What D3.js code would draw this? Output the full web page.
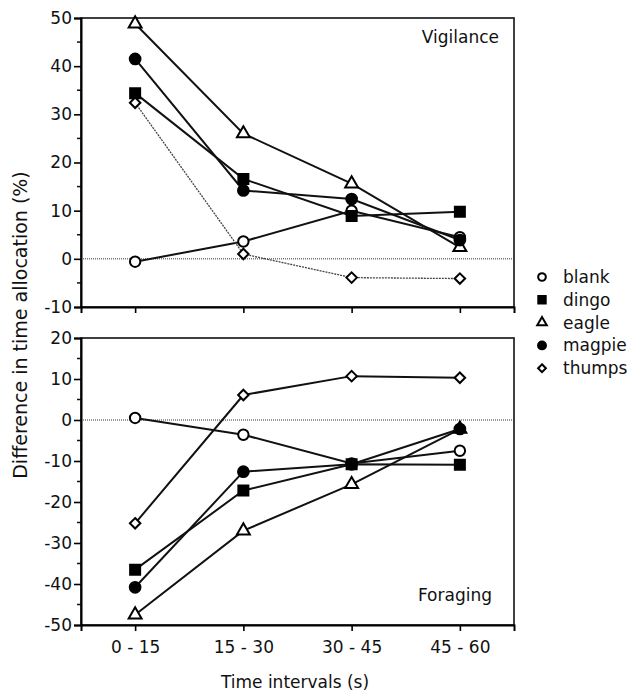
<!DOCTYPE html>
<html>
<head>
<meta charset="utf-8">
<script src="https://cdn.jsdelivr.net/npm/d3@7"></script>
<style>
  body { margin: 0; background: #fff; }
  text { font-family: "DejaVu Sans", sans-serif; fill: #111; }
</style>
</head>
<body>
<div id="vis"></div>
<script>
// data
var intervals = ["0 - 15", "15 - 30", "30 - 45", "45 - 60"]
var species = ["blank", "dingo", "eagle", "magpie", "thumps"]

var vigBlank  = [-0.6, 3.6, 10, 4.5]
var vigDingo  = [34.4, 16.6, 8.9, 9.8]
var vigEagle  = [48.8, 26, 15.6, 2.4]
var vigMagpie = [41.5, 14.2, 12.4, 3.9]
var vigThumps = [32.4, 1, -3.9, -4.1]

var forBlank  = [0.5, -3.6, -10.6, -7.5]
var forDingo  = [-36.5, -17.2, -10.8, -10.9]
var forEagle  = [-47.5, -27, -15.7, -2.2]
var forMagpie = [-40.8, -12.6, -10.8, -2.2]
var forThumps = [-25.2, 6.1, 10.7, 10.3]

var vigTicks = [-10, 0, 10, 20, 30, 40, 50]
var forTicks = [-50, -40, -30, -20, -10, 0, 10, 20]

var width = 630, height = 694
var left = 81, right = 514

var svg = d3.select("#vis").append("svg")
  .attr("width", width)
  .attr("height", height)

var x = d3.scalePoint()
  .domain(intervals)
  .range([left, right])
  .padding(0.5)

// marker shapes per species
var shapes = {
  blank:  {type: d3.symbolCircle,   fill: "#fff"},
  dingo:  {type: d3.symbolSquare,   fill: "#000"},
  eagle:  {type: d3.symbolTriangle, fill: "#fff"},
  magpie: {type: d3.symbolCircle,   fill: "#000"},
  thumps: {type: d3.symbolDiamond2, fill: "#fff"}
}
var sizes = {blank: 85, dingo: 100, eagle: 72, magpie: 90, thumps: 70}

function panel(top, bottom, domain, ticks, series, label, labelY, thinThumps) {
  var y = d3.scaleLinear().domain(domain).range([bottom, top])
  var g = svg.append("g")

  // frame
  g.append("rect")
    .attr("x", left).attr("y", top)
    .attr("width", right - left).attr("height", bottom - top)
    .attr("fill", "none").attr("stroke", "#111").attr("stroke-width", 1.6)

  // zero line
  g.append("line")
    .attr("x1", left).attr("x2", right)
    .attr("y1", y(0)).attr("y2", y(0))
    .attr("stroke", "#333").attr("stroke-width", 1)
    .attr("stroke-dasharray", "1,1")

  // minor ticks
  var minor = d3.range(domain[0] + 5, domain[1], 10)
  g.selectAll(".minor").data(minor).enter().append("line")
    .attr("x1", left - 4).attr("x2", left)
    .attr("y1", d => y(d)).attr("y2", d => y(d))
    .attr("stroke", "#111").attr("stroke-width", 1.5)

  var yAxis = g.append("g")
    .attr("transform", `translate(${left},0)`)
    .call(d3.axisLeft(y).tickValues(ticks).tickFormat(d => String(d)).tickSize(7).tickPadding(2))
  yAxis.select(".domain").attr("stroke-width", 2)
  yAxis.selectAll(".tick line").attr("stroke-width", 1.6)
  yAxis.selectAll("text").style("font-size", "17px").attr("fill", "#111")

  var xAxis = g.append("g")
    .attr("transform", `translate(0,${bottom})`)
    .call(d3.axisBottom(x).tickSize(6).tickPadding(10))
  xAxis.select(".domain").attr("stroke-width", 2)
  xAxis.selectAll(".tick line").attr("stroke-width", 1.6)
  xAxis.selectAll("text").style("font-size", "17px").attr("fill", "#111")
    .style("display", label == "Foraging" ? null : "none")

  var line = d3.line()
    .x((d, i) => x(intervals[i]))
    .y(d => y(d))

  species.forEach(function(s) {
    var thin = thinThumps && s == "thumps"
    g.append("path")
      .datum(series[s])
      .attr("d", line)
      .attr("fill", "none")
      .attr("stroke", thin ? "#444" : "#111")
      .attr("stroke-width", thin ? 1.3 : 2)
      .attr("stroke-dasharray", thin ? "2,1" : null)
  })

  species.forEach(function(s) {
    g.selectAll(".m-" + s).data(series[s]).enter().append("path")
      .attr("transform", (d, i) => `translate(${x(intervals[i])},${y(d)})`)
      .attr("d", d3.symbol().type(shapes[s].type).size(sizes[s]))
      .attr("fill", shapes[s].fill)
      .attr("stroke", "#000")
      .attr("stroke-width", 2)
  })

  g.append("text")
    .attr("x", right - 15 - (label == "Foraging" ? 7 : 0))
    .attr("y", labelY)
    .attr("text-anchor", "end")
    .style("font-size", "17px")
    .text(label)
}

panel(18, 307, [-10, 50], vigTicks,
  {blank: vigBlank, dingo: vigDingo, eagle: vigEagle, magpie: vigMagpie, thumps: vigThumps},
  "Vigilance", 43, true)

panel(338, 625, [-50, 20], forTicks,
  {blank: forBlank, dingo: forDingo, eagle: forEagle, magpie: forMagpie, thumps: forThumps},
  "Foraging", 601, false)

// legend
var legend = svg.append("g").attr("transform", "translate(542,277)")
species.forEach(function(s, i) {
  var row = legend.append("g").attr("transform", `translate(0,${i * 22.8})`)
  row.append("path")
    .attr("d", d3.symbol().type(shapes[s].type).size(sizes[s] * 0.55))
    .attr("fill", shapes[s].fill)
    .attr("stroke", "#000")
    .attr("stroke-width", 2)
  row.append("text")
    .attr("x", 21).attr("y", 6)
    .style("font-size", "17px")
    .text(s)
})

// axis titles
svg.append("text")
  .attr("transform", "translate(27,325) rotate(-90)")
  .attr("text-anchor", "middle")
  .style("font-size", "19px")
  .text("Difference in time allocation (%)")

svg.append("text")
  .attr("x", 295).attr("y", 688)
  .attr("text-anchor", "middle")
  .style("font-size", "17px")
  .text("Time intervals (s)")
</script>
</body>
</html>
